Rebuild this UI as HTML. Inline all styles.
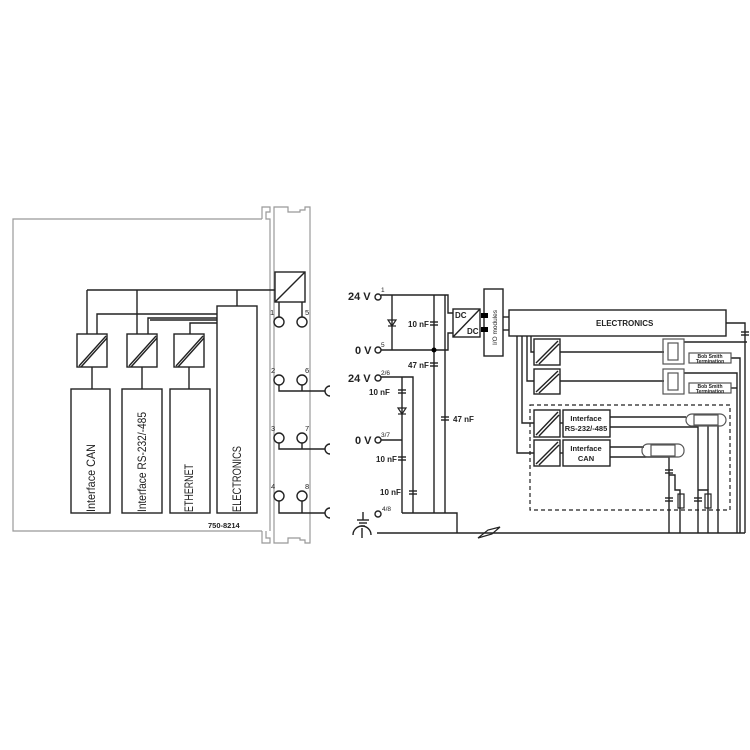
<!DOCTYPE html>
<html><head><meta charset="utf-8"><style>
html,body{margin:0;padding:0;background:#fff}
svg{display:block}
text{font-family:"Liberation Sans",sans-serif;fill:#222}
</style></head><body>
<svg width="750" height="750" viewBox="0 0 750 750" xmlns="http://www.w3.org/2000/svg">
<g fill="none" stroke="#999" stroke-width="1.2">
<polyline points="262,219 13,219 13,531 262,531"/>
<polyline points="262,219 262,207 270,207 270,212 266,212 266,219 270,219 270,531"/>
<polyline points="262,531 262,543 270,543 270,538 266,538 266,531"/>
<polyline points="274,219 274,207 288,207 288,212 300,212 300,210 305,210 305,207 310,207 310,531"/>
<polyline points="274,531 274,543 288,543 288,538 300,538 300,540 305,540 305,543 310,543 310,531"/>
<line x1="274" y1="219" x2="274" y2="531"/>
</g>
<g fill="none" stroke="#222" stroke-width="1.4">
<rect x="275" y="272" width="30" height="30"/>
<line x1="275" y1="302" x2="305" y2="272"/>
<line x1="87" y1="290" x2="275" y2="290"/>
<line x1="87" y1="290" x2="87" y2="334"/>
<line x1="137" y1="290" x2="137" y2="334"/>
<line x1="237" y1="290" x2="237" y2="306"/>
<polyline points="97,334 97,314 217,314"/>
<polyline points="148,334 148,318 217,318"/>
<line x1="150" y1="320" x2="217" y2="320"/>
<polyline points="190,334 190,323 217,323"/>
<rect x="77" y="334" width="30" height="33"/>
<rect x="127" y="334" width="30" height="33"/>
<rect x="174" y="334" width="30" height="33"/>
<line x1="79" y1="366" x2="106" y2="336"/><line x1="81" y1="367" x2="107" y2="338"/>
<line x1="129" y1="366" x2="156" y2="336"/><line x1="131" y1="367" x2="157" y2="338"/>
<line x1="176" y1="366" x2="203" y2="336"/><line x1="178" y1="367" x2="204" y2="338"/>
<line x1="92" y1="367" x2="92" y2="389"/>
<line x1="142" y1="367" x2="142" y2="389"/>
<line x1="189" y1="367" x2="189" y2="389"/>
<rect x="71" y="389" width="39" height="124"/>
<rect x="122" y="389" width="40" height="124"/>
<rect x="170" y="389" width="40" height="124"/>
<rect x="217" y="306" width="40" height="207"/>
<line x1="279" y1="302" x2="279" y2="317"/><line x1="302" y1="302" x2="302" y2="317"/>
<circle cx="279" cy="322" r="5"/><circle cx="302" cy="322" r="5"/>
<circle cx="279" cy="380" r="5"/><circle cx="302" cy="380" r="5"/>
<circle cx="279" cy="438" r="5"/><circle cx="302" cy="438" r="5"/>
<circle cx="279" cy="496" r="5"/><circle cx="302" cy="496" r="5"/>
<polyline points="279,385 279,391 325,391"/><line x1="302" y1="385" x2="302" y2="391"/>
<polyline points="279,443 279,449 325,449"/><line x1="302" y1="443" x2="302" y2="449"/>
<polyline points="279,501 279,513 325,513"/><line x1="302" y1="501" x2="302" y2="513"/>
<path d="M330,386 A5,5 0 0 0 330,396"/>
<path d="M330,444 A5,5 0 0 0 330,454"/>
<path d="M330,508 A5,5 0 0 0 330,518"/>
</g>
<g font-size="7.5">
<text x="270" y="315">1</text><text x="305" y="315">5</text>
<text x="271" y="373">2</text><text x="305" y="373">6</text>
<text x="271" y="431">3</text><text x="305" y="431">7</text>
<text x="271" y="489">4</text><text x="305" y="489">8</text>
</g>
<text x="208" y="528" font-size="7.5" font-weight="bold">750-8214</text>
<g font-size="12">
<text transform="translate(95,512) rotate(-90)" textLength="68" lengthAdjust="spacingAndGlyphs">Interface CAN</text>
<text transform="translate(146,512) rotate(-90)" textLength="100" lengthAdjust="spacingAndGlyphs">Interface RS-232/-485</text>
<text transform="translate(193,512) rotate(-90)" textLength="48" lengthAdjust="spacingAndGlyphs">ETHERNET</text>
<text transform="translate(241,512) rotate(-90)" textLength="66" lengthAdjust="spacingAndGlyphs">ELECTRONICS</text>
</g>

<g fill="none" stroke="#222" stroke-width="1.4">
<circle cx="378" cy="297" r="3"/><circle cx="378" cy="350" r="3"/>
<circle cx="378" cy="378" r="3"/><circle cx="378" cy="440" r="3"/><circle cx="378" cy="514" r="3"/>
<polyline points="381,295 448,295 448,313 453,313"/>
<polyline points="381,350 448,350 448,333 453,333"/>
<line x1="392" y1="295" x2="392" y2="350"/>
<line x1="434" y1="295" x2="434" y2="513"/>
<line x1="445" y1="295" x2="445" y2="513"/>
<polyline points="381,377 413,377 413,513"/>
<line x1="402" y1="377" x2="402" y2="513"/>
<line x1="381" y1="440" x2="402" y2="440"/>
<polyline points="402,513 457,513 457,533"/>
<line x1="377" y1="533" x2="745" y2="533"/>
<rect x="453" y="309" width="27" height="28"/>
<line x1="453" y1="337" x2="480" y2="309"/>
<rect x="484" y="289" width="19" height="67"/>
<polyline points="503,317 509,317"/><polyline points="503,330 509,330"/>
<rect x="509" y="310" width="217" height="26"/>
<polyline points="726,323 745,323 745,533"/>
<line x1="363" y1="512" x2="363" y2="520"/><line x1="357" y1="520" x2="369" y2="520"/>
<line x1="359" y1="523" x2="367" y2="523"/><line x1="361" y1="526" x2="365" y2="526"/>
<path d="M353,535 A9,9 0 0 1 371,535"/>
<line x1="362" y1="528" x2="362" y2="538"/>
<rect x="534" y="339" width="26" height="26"/><line x1="536" y1="363" x2="558" y2="341"/><line x1="539" y1="364" x2="559" y2="344"/>
<rect x="534" y="369" width="26" height="25"/><line x1="536" y1="392" x2="558" y2="371"/><line x1="539" y1="393" x2="559" y2="374"/>
<rect x="534" y="410" width="26" height="27"/><line x1="536" y1="435" x2="558" y2="412"/><line x1="539" y1="436" x2="559" y2="415"/>
<rect x="534" y="440" width="26" height="26"/><line x1="536" y1="464" x2="558" y2="442"/><line x1="539" y1="465" x2="559" y2="445"/>
<polyline points="531,336 531,352 534,352"/>
<polyline points="527,336 527,381 534,381"/>
<polyline points="522,336 522,423 534,423"/>
<polyline points="517,336 517,453 534,453"/>
<line x1="560" y1="352" x2="664" y2="352"/>
<line x1="560" y1="381" x2="664" y2="381"/>
<rect x="563" y="410" width="47" height="27"/>
<rect x="563" y="440" width="47" height="26"/>
<line x1="560" y1="423" x2="563" y2="423"/><line x1="560" y1="453" x2="563" y2="453"/>
<line x1="610" y1="417" x2="686" y2="417"/>
<polyline points="610,427 698,427 698,533"/>
<line x1="610" y1="447" x2="644" y2="447"/>
<polyline points="610,457 669,457 669,533"/>
<polyline points="669,475 675,475 675,490 680,490 680,533"/>
<polyline points="698,490 708,490 708,533"/>
<line x1="718" y1="425" x2="718" y2="533"/>
<line x1="708" y1="425" x2="708" y2="490"/>
<polyline points="684,342 747,342"/>
<polyline points="684,373 737,373 737,533"/>
<polyline points="731,358 740,358 740,533"/>
<polyline points="731,388 737,388"/>
</g>
<g fill="none" stroke="#555" stroke-width="1.2">
<rect x="663" y="339" width="21" height="25"/><rect x="668" y="343" width="10" height="17"/>
<rect x="663" y="369" width="21" height="25"/><rect x="668" y="373" width="10" height="17"/>
<rect x="689" y="353" width="42" height="10"/>
<rect x="689" y="383" width="42" height="10"/>
<rect x="686" y="414" width="40" height="12" rx="6"/><rect x="694" y="415" width="24" height="10"/>
<rect x="642" y="444" width="42" height="13" rx="6"/><rect x="651" y="445" width="24" height="11"/>
<rect x="678" y="494" width="6" height="14" stroke="#222"/>
<rect x="705" y="494" width="6" height="14" stroke="#222"/>
</g>
<rect x="530" y="405" width="200" height="105" fill="none" stroke="#222" stroke-width="1.2" stroke-dasharray="4,3"/>
<g stroke="#222" stroke-width="1.4">
<line x1="430" y1="322" x2="438" y2="322"/><line x1="430" y1="325" x2="438" y2="325"/>
<line x1="430" y1="363" x2="438" y2="363"/><line x1="430" y1="366" x2="438" y2="366"/>
<line x1="441" y1="417" x2="449" y2="417"/><line x1="441" y1="420" x2="449" y2="420"/>
<line x1="398" y1="390" x2="406" y2="390"/><line x1="398" y1="393" x2="406" y2="393"/>
<line x1="398" y1="457" x2="406" y2="457"/><line x1="398" y1="460" x2="406" y2="460"/>
<line x1="409" y1="491" x2="417" y2="491"/><line x1="409" y1="494" x2="417" y2="494"/>
<line x1="665" y1="470" x2="673" y2="470"/><line x1="665" y1="473" x2="673" y2="473"/>
<line x1="665" y1="498" x2="673" y2="498"/><line x1="665" y1="501" x2="673" y2="501"/>
<line x1="694" y1="498" x2="702" y2="498"/><line x1="694" y1="501" x2="702" y2="501"/>
<line x1="741" y1="332" x2="749" y2="332"/><line x1="741" y1="335" x2="749" y2="335"/>
</g>
<circle cx="434" cy="350" r="2.5" fill="#000"/>
<rect x="481" y="313" width="7" height="5" fill="#000"/><rect x="481" y="327" width="7" height="5" fill="#000"/>
<g fill="none" stroke="#222" stroke-width="1.2">
<path d="M388,320 L396,320 L392,326 Z"/><line x1="388" y1="326" x2="396" y2="326"/>
<path d="M398,408 L406,408 L402,414 Z"/><line x1="398" y1="414" x2="406" y2="414"/>
<path d="M478,538 L488,530 L500,527 L492,534 Z"/>
</g>
<g font-size="11" font-weight="bold">
<text x="348" y="300">24 V</text><text x="355" y="354">0 V</text>
<text x="348" y="382">24 V</text><text x="355" y="444">0 V</text>
</g>
<g font-size="6.5">
<text x="381" y="292">1</text><text x="381" y="347">5</text>
<text x="381" y="375">2/6</text><text x="381" y="437">3/7</text><text x="382" y="511">4/8</text>
</g>
<g font-size="8" font-weight="bold">
<text x="408" y="327">10 nF</text><text x="408" y="368">47 nF</text><text x="453" y="422">47 nF</text>
<text x="369" y="395">10 nF</text><text x="376" y="462">10 nF</text><text x="380" y="495">10 nF</text>
<text x="455" y="318">DC</text><text x="467" y="334">DC</text>
<text x="596" y="326">ELECTRONICS</text>
<text x="586" y="421" font-size="7.5" text-anchor="middle">Interface</text>
<text x="586" y="431" font-size="7.5" text-anchor="middle">RS-232/-485</text>
<text x="586" y="451" font-size="7.5" text-anchor="middle">Interface</text>
<text x="586" y="461" font-size="7.5" text-anchor="middle">CAN</text>
</g>
<text transform="translate(497,345) rotate(-90)" font-size="6.5">I/O modules</text>
<g font-size="5" text-anchor="middle" font-weight="bold">
<text x="710" y="358">Bob Smith</text><text x="710" y="363">Termination</text>
<text x="710" y="388">Bob Smith</text><text x="710" y="393">Termination</text>
</g>
</svg>
</body></html>
